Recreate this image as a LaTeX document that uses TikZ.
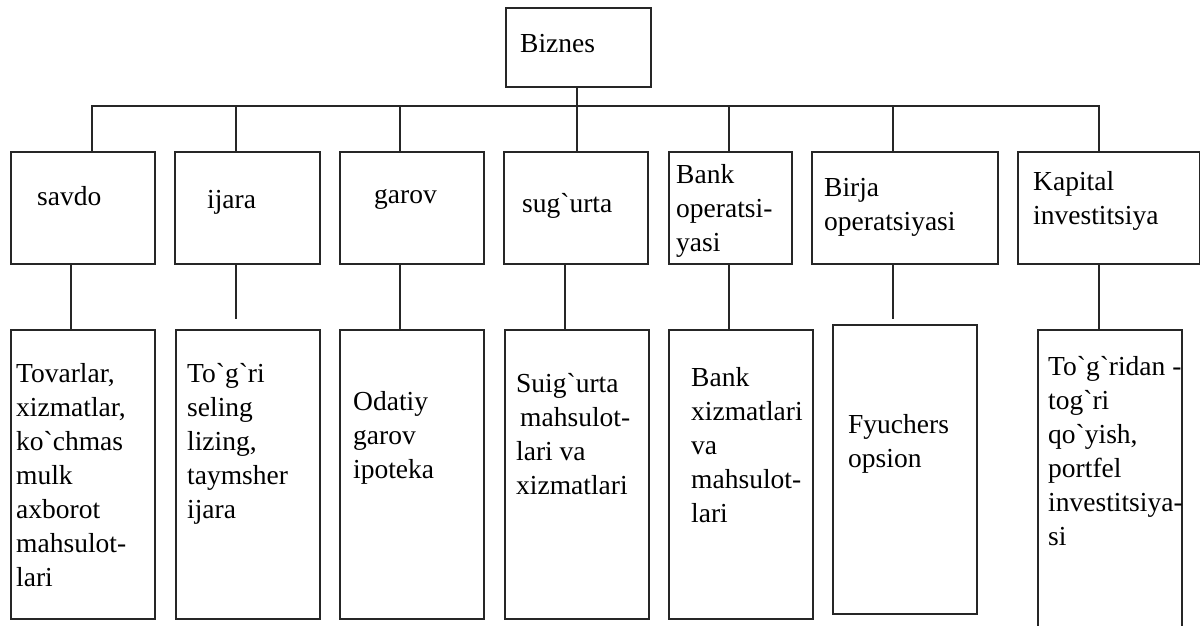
\documentclass[tikz,border=0pt]{standalone}
\usepackage{fontspec}
\setmainfont{Liberation Serif}[Ligatures=TeXOff]
% stacked lines whose baseline is the first line's baseline
\newcommand\stack[1]{\begin{tabular}[t]{@{}l@{}}#1\end{tabular}}
\begin{document}
\begin{tikzpicture}[x=1pt,y=-1pt,
  box/.style={draw=black!85, line width=1.5pt, inner sep=0pt, anchor=north west},
  lbl/.style={anchor=base west, inner sep=0pt, text=black, font=\fontsize{27.5}{34}\selectfont},
  wire/.style={draw=black!85, line width=1.6pt}]
\useasboundingbox (0,0) rectangle (1200,625);

% top box
\node[box, minimum width=145pt, minimum height=79pt] (biz) at (505,7) {};
\node[lbl] (tbiz) at (520,52) {Biznes};

% second row
\node[box, minimum width=144pt, minimum height=112pt] (sav) at (10,151) {};
\node[box, minimum width=145pt, minimum height=112pt] (ija) at (174,151) {};
\node[box, minimum width=144pt, minimum height=112pt] (gar) at (339,151) {};
\node[box, minimum width=144pt, minimum height=112pt] (sug) at (503,151) {};
\node[box, minimum width=123pt, minimum height=112pt] (bop) at (668,151) {};
\node[box, minimum width=186pt, minimum height=112pt] (bir) at (811,151) {};
\node[box, minimum width=182pt, minimum height=112pt] (kap) at (1017,151) {};

\node[lbl] (tsav) at (37,205) {savdo};
\node[lbl] (tija) at (207,208) {ijara};
\node[lbl] (tgar) at (374,203) {garov};
\node[lbl] (tsug) at (522,212) {sug`urta};
\node[lbl] (tbop) at (676,183) {\stack{Bank\\operatsi-\\yasi}};
\node[lbl] (tbir) at (824,196) {\stack{Birja\\operatsiyasi}};
\node[lbl] (tkap) at (1033,190) {\stack{Kapital\\investitsiya}};

% third row
\node[box, minimum width=144pt, minimum height=289pt] (tov) at (10,329) {};
\node[box, minimum width=144pt, minimum height=289pt] (sel) at (175,329) {};
\node[box, minimum width=144pt, minimum height=289pt] (oda) at (339,329) {};
\node[box, minimum width=144pt, minimum height=289pt] (sui) at (504,329) {};
\node[box, minimum width=144pt, minimum height=289pt] (bxz) at (668,329) {};
\node[box, minimum width=144pt, minimum height=289pt] (fyu) at (832,324) {};
\node[box, minimum width=144pt, minimum height=320pt] (tgr) at (1037,329) {};

\node[lbl] (ttov) at (16,382) {\stack{Tovarlar,\\xizmatlar,\\ko`chmas\\mulk\\axborot\\mahsulot-\\lari}};
\node[lbl] (tsel) at (187,382) {\stack{To`g`ri\\seling\\lizing,\\taymsher\\ijara}};
\node[lbl] (toda) at (353,410) {\stack{Odatiy\\garov\\ipoteka}};
\node[lbl] (tsui) at (516,392) {\stack{Suig`urta\\\hspace*{4pt}mahsulot-\\lari va\\xizmatlari}};
\node[lbl] (tbxz) at (691,386) {\stack{Bank\\xizmatlari\\va\\mahsulot-\\lari}};
\node[lbl] (tfyu) at (848,433) {\stack{Fyuchers\\opsion}};
\node[lbl] (ttgr) at (1048,375) {\stack{To`g`ridan -\\tog`ri\\qo`yish,\\portfel\\investitsiya-\\si}};

% bus line and the x positions of the drops
\coordinate (bus) at (0,106);
\coordinate (x1) at (92,0);
\coordinate (x2) at (236,0);
\coordinate (x3) at (400,0);
\coordinate (x4) at (577,0);
\coordinate (x5) at (729,0);
\coordinate (x6) at (893,0);
\coordinate (x7) at (1099,0);
\coordinate (y1) at (71,0);
\coordinate (y4) at (565,0);
\coordinate (gap) at (0,319);

\draw[wire] (x1 |- sav.north) -- (x1 |- bus) -- (x7 |- bus) -- (x7 |- kap.north);
\draw[wire] (x4 |- biz.south) -- (x4 |- sug.north);
\draw[wire] (x2 |- bus) -- (x2 |- ija.north);
\draw[wire] (x3 |- bus) -- (x3 |- gar.north);
\draw[wire] (x5 |- bus) -- (x5 |- bop.north);
\draw[wire] (x6 |- bus) -- (x6 |- bir.north);

% drops to the third row
\draw[wire] (y1 |- sav.south) -- (y1 |- tov.north);
\draw[wire] (x2 |- ija.south) -- (x2 |- gap);
\draw[wire] (x3 |- gar.south) -- (x3 |- oda.north);
\draw[wire] (y4 |- sug.south) -- (y4 |- sui.north);
\draw[wire] (x5 |- bop.south) -- (x5 |- bxz.north);
\draw[wire] (x6 |- bir.south) -- (x6 |- gap);
\draw[wire] (x7 |- kap.south) -- (x7 |- tgr.north);
\end{tikzpicture}
\end{document}
